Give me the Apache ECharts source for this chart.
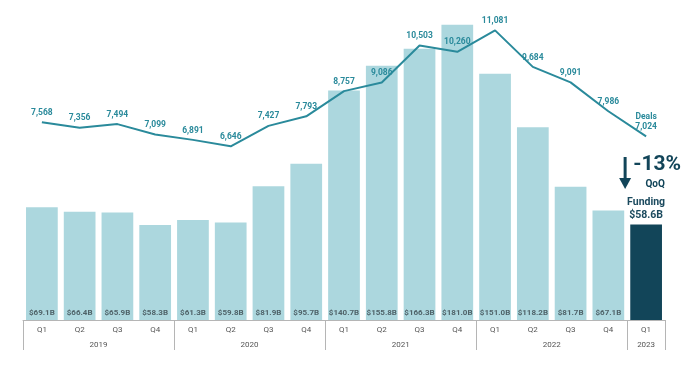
<!DOCTYPE html>
<html><head><meta charset="utf-8">
<script src="https://cdn.jsdelivr.net/npm/echarts@6/dist/echarts.min.js"></script>
<style>html,body{margin:0;padding:0;background:#fff}#c{width:700px;height:369px}</style>
</head><body><div id="c"></div>
<script>
var quarters = ['Q1','Q2','Q3','Q4','Q1','Q2','Q3','Q4','Q1','Q2','Q3','Q4','Q1','Q2','Q3','Q4','Q1'];
var years = ['2019','2020','2021','2022','2023'];
var quartersPerYear = [4,4,4,4,1];
var funding = [69.1,66.4,65.9,58.3,61.3,59.8,81.9,95.7,140.7,155.8,166.3,181.0,151.0,118.2,81.7,67.1,58.6];
var deals = [7568,7356,7494,7099,6891,6646,7427,7793,8757,9086,10503,10260,11081,9684,9091,7986,7024];
var qoqText = '-13%';

var LIGHT = '#acd7de', DARK = '#124559', TEAL = '#2a8a9b';
var FONT = 'Roboto, "Noto Sans", sans-serif';

var nSlots = quarters.length * 2 + 1;
var yearSlots = [], yearTickIdx = {}, pos = 0;
for (var i = 0; i < nSlots; i++) yearSlots.push('');
yearTickIdx[0] = true;
years.forEach(function (y, k) {
  var q = quartersPerYear[k];
  yearSlots[pos * 2 + q] = y;
  pos += q;
  yearTickIdx[pos * 2] = true;
});

function fmtInt(v) { return String(v).replace(/\B(?=(\d{3})+(?!\d))/g, ','); }

var last = funding.length - 1;
var chart = echarts.init(document.getElementById('c'));
chart.setOption({
  animation: false,
  textStyle: { fontFamily: FONT },
  grid: { left: 23, right: 35, top: 10, bottom: 49 },
  xAxis: [{
    type: 'category', data: quarters, position: 'bottom',
    axisLine: { show: true, lineStyle: { color: '#b5b5b5', width: 1 } },
    axisTick: { show: false },
    axisLabel: { interval: 0, fontSize: 8, color: '#555', margin: 6, fontFamily: FONT }
  }, {
    type: 'category', data: yearSlots, position: 'bottom', boundaryGap: false,
    axisLine: { show: false },
    axisTick: { show: true, length: 30, lineStyle: { color: '#b5b5b5' },
      interval: function (idx) { return !!yearTickIdx[idx]; } },
    axisLabel: { interval: 0, fontSize: 8, color: '#555', margin: 21, fontFamily: FONT }
  }],
  yAxis: [
    { type: 'value', min: 0, max: 190, show: false },
    { type: 'value', min: 0, max: 11860, show: false }
  ],
  series: [{
    type: 'bar', xAxisIndex: 0, yAxisIndex: 0, barWidth: '84%',
    data: funding.map(function (v, i) {
      return i === last ? {
        value: v, itemStyle: { color: DARK },
        label: { position: 'top', distance: 3, color: '#1b4a5e', fontSize: 10.5, fontWeight: 'bold', lineHeight: 13,
          formatter: function (p) { return 'Funding\n$' + p.value.toFixed(1) + 'B'; } }
      } : v;
    }),
    itemStyle: { color: LIGHT },
    label: { show: true, position: 'insideBottom', distance: 3, fontSize: 8, fontWeight: 'bold', color: '#4f6369',
      formatter: function (p) { return '$' + p.value.toFixed(1) + 'B'; } },
    z: 1
  }, {
    type: 'line', xAxisIndex: 0, yAxisIndex: 1, data: deals.map(function (v, i) {
      return i === last ? { value: v, label: { lineHeight: 10,
        formatter: function (p) { return 'Deals\n' + fmtInt(p.value); } } } : v;
    }),
    symbol: 'circle', symbolSize: 0, showSymbol: true,
    lineStyle: { color: TEAL, width: 2 }, itemStyle: { color: TEAL },
    label: { show: true, position: 'top', distance: 5, fontSize: 8.5, fontWeight: 'bold', color: TEAL,
      formatter: function (p) { return fmtInt(p.value); } },
    labelLayout: { hideOverlap: false },
    z: 3
  }]
});

var pLast = chart.convertToPixel({ xAxisIndex: 0, yAxisIndex: 0 }, [last, 0]);
var ax = pLast[0] - 21;
chart.setOption({
  graphic: [
    { type: 'line', shape: { x1: ax, y1: 157, x2: ax, y2: 180 }, style: { stroke: DARK, lineWidth: 3 } },
    { type: 'polygon', shape: { points: [[ax - 6, 178], [ax + 6, 178], [ax, 189]] }, style: { fill: DARK } },
    { type: 'text', x: pLast[0] + 11, y: 165, style: { text: qoqText, fill: DARK, font: 'bold 21px ' + FONT, textAlign: 'center', textVerticalAlign: 'middle' } },
    { type: 'text', x: pLast[0] + 9, y: 184, style: { text: 'QoQ', fill: DARK, font: 'bold 10px ' + FONT, textAlign: 'center', textVerticalAlign: 'middle' } }
  ]
});
</script></body></html>
